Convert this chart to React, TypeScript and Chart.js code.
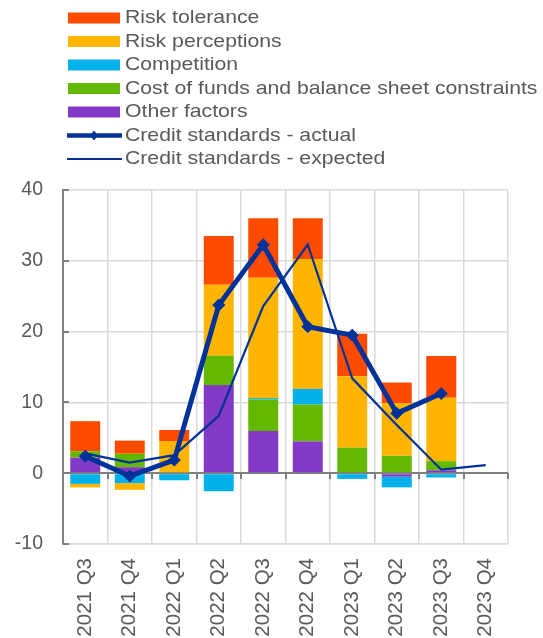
import React, { useEffect, useRef } from "react";
import { Chart, registerables } from "chart.js";

Chart.register(...registerables);

const categories = [
  "2021 Q3", "2021 Q4", "2022 Q1", "2022 Q2", "2022 Q3",
  "2022 Q4", "2023 Q1", "2023 Q2", "2023 Q3", "2023 Q4",
];
const otherFactors = [2.2, 0.85, 0, 12.45, 5.95, 4.5, 0, -0.5, 0.4, null];
const costOfFunds = [0.9, 1.9, 0, 4.15, 4.45, 5.2, 3.6, 2.45, 1.3, null];
const competition = [-1.5, -1.4, -1.0, -2.55, 0.2, 2.2, -0.8, -1.5, -0.6, null];
const riskPerceptions = [-0.5, -0.95, 4.55, 10.0, 17.0, 18.35, 10.1, 7.45, 8.95, null];
const riskTolerance = [4.25, 1.85, 1.55, 6.9, 8.4, 5.75, 6.0, 2.9, 5.9, null];
const actual = [2.4, -0.4, 1.85, 23.75, 32.25, 20.7, 19.5, 8.45, 11.25, null];
const expected = [2.8, 1.5, 2.55, 8.1, 23.6, 32.3, 13.4, 6.8, 0.5, 1.15];
const yTicks = [-10, 0, 10, 20, 30, 40];

const FONT = '"Liberation Sans", Arial, sans-serif';
const TEXT = "#595959";
const C_TOL = "#FF4B00";
const C_PERC = "#FFB400";
const C_COMP = "#00B1EA";
const C_COST = "#65B800";
const C_OTHER = "#8139C6";
const C_LINE = "#003299";

const legendItems = [
  { label: "Risk tolerance", color: C_TOL, kind: "box" },
  { label: "Risk perceptions", color: C_PERC, kind: "box" },
  { label: "Competition", color: C_COMP, kind: "box" },
  { label: "Cost of funds and balance sheet constraints", color: C_COST, kind: "box" },
  { label: "Other factors", color: C_OTHER, kind: "box" },
  { label: "Credit standards - actual", color: C_LINE, kind: "thick" },
  { label: "Credit standards - expected", color: C_LINE, kind: "thin" },
];

const customPlugin = {
  id: "customDecor",
  afterDraw(chart: any) {
    const ctx = chart.ctx as CanvasRenderingContext2D;
    const { left, right } = chart.chartArea;
    const ys = chart.scales.y;
    ctx.save();
    // inward y ticks
    ctx.strokeStyle = "#808080";
    ctx.lineWidth = 2;
    yTicks.forEach((v) => {
      const py = Math.round(ys.getPixelForValue(v));
      ctx.beginPath();
      ctx.moveTo(left, py);
      ctx.lineTo(left + 6, py);
      ctx.stroke();
    });
    // x ticks under the zero line
    const zy = Math.round(ys.getPixelForValue(0));
    const n = categories.length;
    for (let i = 1; i <= n; i++) {
      const px = Math.round(left + ((right - left) * i) / n);
      ctx.beginPath();
      ctx.moveTo(px, zy);
      ctx.lineTo(px, zy + 6);
      ctx.stroke();
    }
    // legend
    const y0 = 18;
    const step = 23.5;
    const stretch = 1.14;
    legendItems.forEach((it, i) => {
      const cy = y0 + i * step;
      if (it.kind === "box") {
        ctx.fillStyle = it.color;
        ctx.fillRect(68, cy - 5.5, 52, 11);
      } else if (it.kind === "thick") {
        ctx.strokeStyle = it.color;
        ctx.lineWidth = 4.5;
        ctx.beginPath();
        ctx.moveTo(67, cy);
        ctx.lineTo(122, cy);
        ctx.stroke();
        ctx.fillStyle = it.color;
        ctx.beginPath();
        ctx.moveTo(94, cy - 5);
        ctx.lineTo(98, cy);
        ctx.lineTo(94, cy + 5);
        ctx.lineTo(90, cy);
        ctx.closePath();
        ctx.fill();
      } else {
        ctx.strokeStyle = it.color;
        ctx.lineWidth = 2;
        ctx.beginPath();
        ctx.moveTo(67, cy);
        ctx.lineTo(122, cy);
        ctx.stroke();
      }
      ctx.save();
      ctx.translate(125, cy);
      ctx.scale(stretch, 1);
      ctx.font = `18.6px ${FONT}`;
      ctx.textBaseline = "middle";
      ctx.textAlign = "left";
      ctx.fillStyle = TEXT;
      ctx.fillText(it.label, 0, 0);
      ctx.restore();
    });
    ctx.restore();
  },
};

export default function App() {
  const ref = useRef<HTMLCanvasElement | null>(null);

  useEffect(() => {
    document.body.style.margin = "0";
    const canvas = ref.current;
    if (!canvas) return;
    const barCommon = {
      type: "bar" as const,
      stack: "bars",
      barPercentage: 0.674,
      categoryPercentage: 1,
      borderWidth: 0,
      order: 2,
    };
    const chart = new Chart(canvas, {
      type: "bar",
      data: {
        labels: categories,
        datasets: [
          { ...barCommon, label: "Other factors", data: otherFactors, backgroundColor: C_OTHER },
          { ...barCommon, label: "Cost of funds and balance sheet constraints", data: costOfFunds, backgroundColor: C_COST },
          { ...barCommon, label: "Competition", data: competition, backgroundColor: C_COMP },
          { ...barCommon, label: "Risk perceptions", data: riskPerceptions, backgroundColor: C_PERC },
          { ...barCommon, label: "Risk tolerance", data: riskTolerance, backgroundColor: C_TOL },
          {
            type: "line" as const,
            label: "Credit standards - expected",
            data: expected,
            stack: "expected",
            borderColor: C_LINE,
            borderWidth: 2.2,
            pointRadius: 0,
            tension: 0,
            fill: false,
            order: 1,
          },
          {
            type: "line" as const,
            label: "Credit standards - actual",
            data: actual,
            stack: "actual",
            borderColor: C_LINE,
            backgroundColor: C_LINE,
            borderWidth: 5,
            pointStyle: "rectRot",
            pointRadius: 6,
            pointBorderWidth: 1,
            pointBackgroundColor: C_LINE,
            pointBorderColor: C_LINE,
            tension: 0,
            fill: false,
            order: 0,
          },
        ] as any,
      },
      options: {
        responsive: false,
        animation: false,
        devicePixelRatio: 1,
        layout: { padding: { left: 14, right: 35, top: 190, bottom: 0 } },
        plugins: {
          legend: { display: false },
          tooltip: { enabled: false },
        },
        scales: {
          x: {
            stacked: true,
            grid: {
              color: "#d9d9d9",
              lineWidth: 1.5,
              drawTicks: false,
              offset: true,
            },
            border: { color: "#d9d9d9", width: 1.5 },
            ticks: {
              minRotation: 90,
              maxRotation: 90,
              padding: 14,
              color: TEXT,
              font: { family: FONT, size: 20.5 },
            },
            afterFit: (scale: any) => {
              scale.height = 94;
            },
          },
          y: {
            stacked: true,
            min: -10,
            max: 40,
            ticks: {
              stepSize: 10,
              padding: 20,
              color: TEXT,
              font: { family: FONT, size: 19.5 },
            },
            grid: {
              drawTicks: false,
              color: (c: any) => (c.tick && c.tick.value === 0 ? "#808080" : "#d9d9d9"),
              lineWidth: (c: any) => (c.tick && c.tick.value === 0 ? 2 : 1.5),
            },
            border: { color: "#808080", width: 2 },
            afterFit: (scale: any) => {
              scale.width = 49;
            },
          },
        },
      },
      plugins: [customPlugin],
    });
    return () => chart.destroy();
  }, []);

  return (
    <div style={{ position: "absolute", left: 0, top: 0 }}>
      <canvas ref={ref} width={543} height={638} style={{ display: "block" }} />
    </div>
  );
}
